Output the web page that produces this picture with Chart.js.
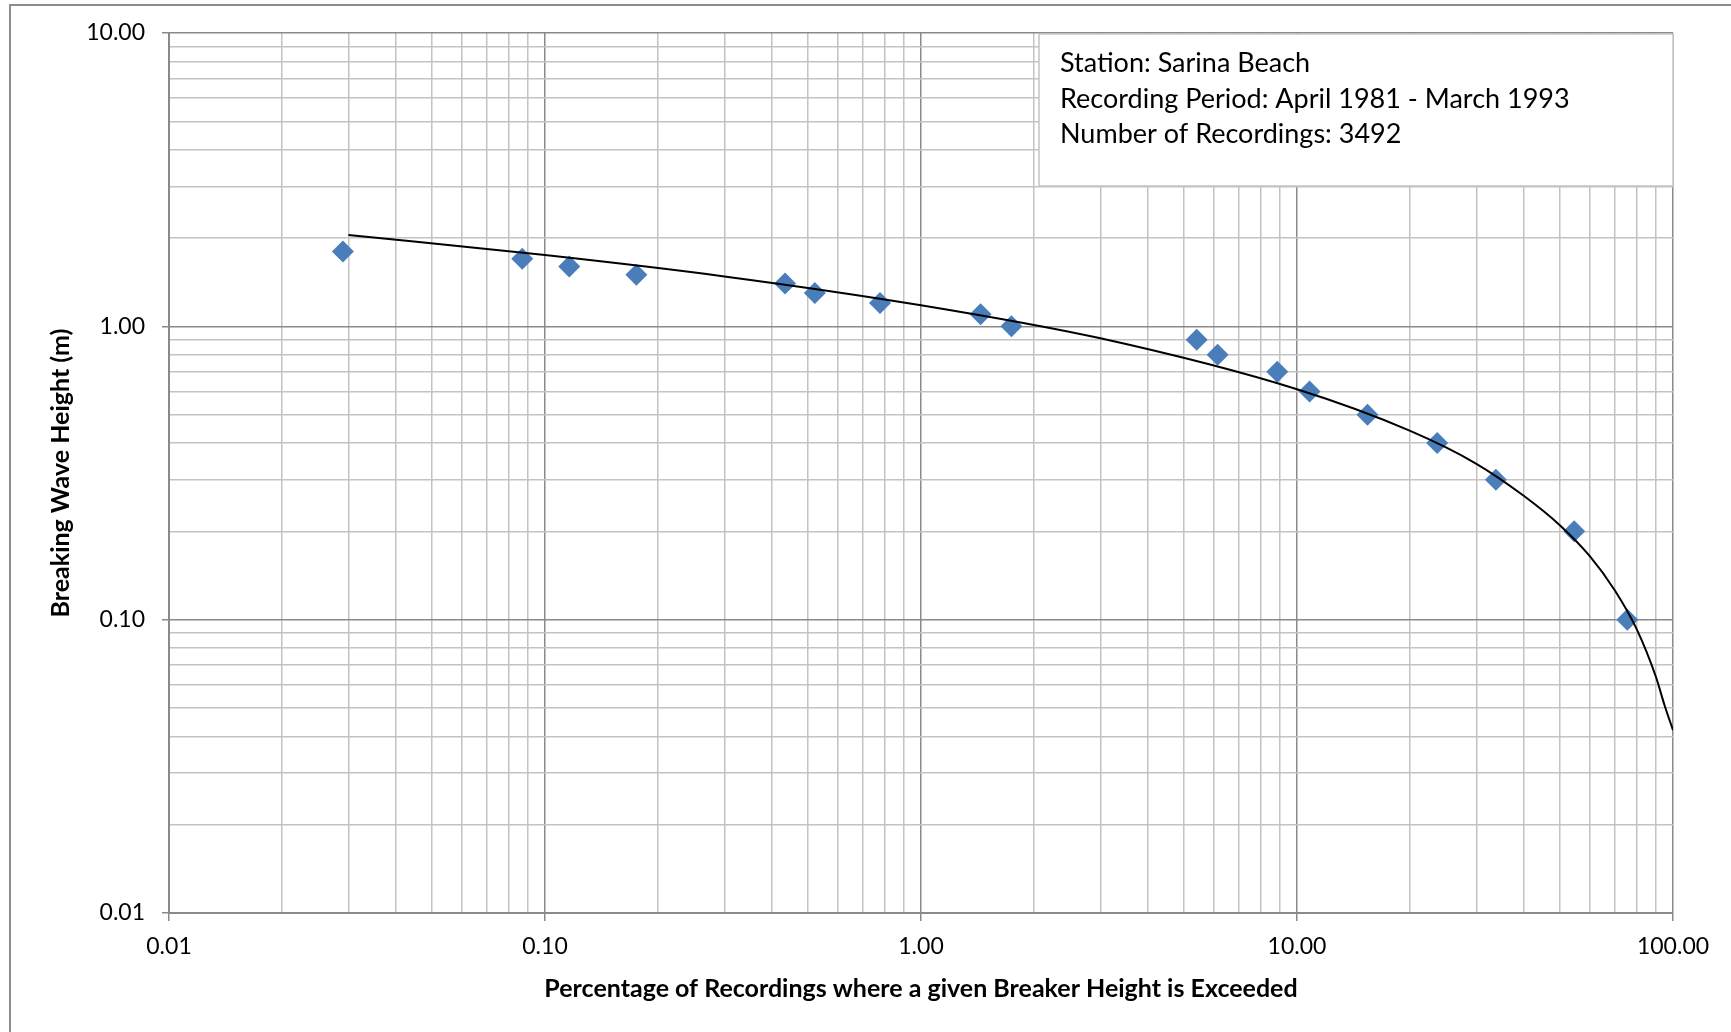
<!DOCTYPE html>
<html>
<head>
<meta charset="utf-8">
<script src="https://cdn.jsdelivr.net/npm/chart.js@4.4.0/dist/chart.umd.min.js"></script>
<style>
  html, body { margin: 0; padding: 0; background: #fff; }
  #wrap { width: 1731px; height: 1032px; }
</style>
</head>
<body>
<div id="wrap"><canvas id="waveChart" width="1731" height="1032"></canvas></div>
<script>
const exceedPct = [0.029, 0.087, 0.116, 0.175, 0.435, 0.522, 0.778, 1.44, 1.74, 5.41, 6.15, 8.86, 10.8, 15.4, 23.6, 33.8, 54.6, 75.6];
const waveHeight = [1.8, 1.7, 1.6, 1.5, 1.4, 1.3, 1.2, 1.1, 1.0, 0.9, 0.8, 0.7, 0.6, 0.5, 0.4, 0.3, 0.2, 0.1];

// trend curve, sampled from the plot
const trendPct = [0.03, 0.1, 0.3, 1, 3, 10, 20, 30, 40, 50, 60, 70, 80, 90, 95, 100];
const trendHeight = [2.05, 1.75, 1.48, 1.18, 0.91, 0.61, 0.44, 0.34, 0.265, 0.21, 0.165, 0.126, 0.093, 0.064, 0.051, 0.042];

const xTickValues = [0.01, 0.1, 1, 10, 100];
const xTickLabels = ['0.01', '0.10', '1.00', '10.00', '100.00'];
const yTickValues = [0.01, 0.1, 1, 10];
const yTickLabels = ['0.01', '0.10', '1.00', '10.00'];

const infoLines = [
  'Station: Sarina Beach',
  'Recording Period: April 1981 - March 1993',
  'Number of Recordings: 3492'
];

const MAJOR = '#8a8a8a';
const MINOR = '#c3c3c3';

// major decades plus the 2..9 lines between them
function gridTicks(majors) {
  const out = [];
  for (let i = 0; i < majors.length; i++) {
    out.push({ value: majors[i], major: true });
    if (i === majors.length - 1) break;
    for (let k = 2; k <= 9; k++) {
      out.push({ value: Number((k * majors[i]).toPrecision(3)), major: false });
    }
  }
  return out;
}

function isMajor(v, majors) {
  return majors.some(m => Math.abs(m - v) < m * 1e-6);
}

function labelFor(v, values, labels) {
  const i = values.findIndex(m => Math.abs(m - v) < m * 1e-6);
  return i >= 0 ? labels[i] : '';
}

const sheetPlugin = {
  id: 'sheet',
  beforeDraw(chart) {
    const ctx = chart.ctx;
    ctx.save();
    ctx.fillStyle = '#fff';
    ctx.fillRect(0, 0, chart.width, chart.height);
    ctx.strokeStyle = '#8c8c8c';
    ctx.lineWidth = 2;
    ctx.beginPath();
    ctx.moveTo(10, chart.height);
    ctx.lineTo(10, 5);
    ctx.lineTo(chart.width, 5);
    ctx.stroke();
    ctx.restore();
  },
  afterDraw(chart) {
    const a = chart.chartArea;
    const ctx = chart.ctx;
    const w = 634, h = 152;
    const left = a.right - w, top = a.top + 1;
    ctx.save();
    ctx.fillStyle = '#fff';
    ctx.fillRect(left, top, w, h);
    ctx.strokeStyle = '#c3c3c3';
    ctx.lineWidth = 1.5;
    ctx.strokeRect(left, top, w, h);
    ctx.fillStyle = '#000';
    ctx.font = '27px Lato';
    ctx.textBaseline = 'alphabetic';
    infoLines.forEach((t, i) => ctx.fillText(t, left + 21, top + 38 + i * 35.5));
    ctx.restore();
  }
};

Chart.defaults.font.family = 'Lato';
Chart.defaults.color = '#000';

new Chart(document.getElementById('waveChart'), {
  type: 'scatter',
  data: {
    datasets: [
      {
        label: 'Trend',
        data: trendPct.map((x, i) => ({ x: x, y: trendHeight[i] })),
        showLine: true,
        borderColor: '#000',
        borderWidth: 2,
        pointRadius: 0,
        cubicInterpolationMode: 'monotone',
        order: 0
      },
      {
        label: 'Recordings',
        data: exceedPct.map((x, i) => ({ x: x, y: waveHeight[i] })),
        pointStyle: 'rectRot',
        pointRadius: 11,
        backgroundColor: '#4a7ebb',
        borderColor: '#4a7ebb',
        borderWidth: 0,
        order: 1
      }
    ]
  },
  options: {
    responsive: false,
    animation: false,
    layout: { padding: { left: 0, top: 33, right: 58, bottom: 0 } },
    plugins: {
      legend: { display: false },
      tooltip: { enabled: false }
    },
    scales: {
      x: {
        type: 'logarithmic',
        min: 0.01,
        max: 100,
        afterBuildTicks: s => { s.ticks = gridTicks(xTickValues); },
        afterFit: s => { s.height = 119; },
        ticks: {
          autoSkip: false,
          maxRotation: 0,
          padding: 12,
          font: { size: 23 },
          callback: v => labelFor(v, xTickValues, xTickLabels)
        },
        grid: {
          lineWidth: 1.5,
          tickLength: 8,
          color: c => isMajor(c.tick.value, xTickValues) ? MAJOR : MINOR,
          tickColor: c => isMajor(c.tick.value, xTickValues) ? MAJOR : 'rgba(0,0,0,0)'
        },
        border: { color: MAJOR, width: 2 },
        title: {
          display: true,
          text: 'Percentage of Recordings where a given Breaker Height is Exceeded',
          font: { size: 25, weight: 'bold' },
          padding: { top: 0, bottom: 28 }
        }
      },
      y: {
        type: 'logarithmic',
        min: 0.01,
        max: 10,
        afterBuildTicks: s => { s.ticks = gridTicks(yTickValues); },
        afterFit: s => { s.width = 169; },
        ticks: {
          autoSkip: false,
          padding: 17,
          font: { size: 23 },
          callback: v => labelFor(v, yTickValues, yTickLabels)
        },
        grid: {
          lineWidth: 1.5,
          tickLength: 7,
          color: c => isMajor(c.tick.value, yTickValues) ? MAJOR : MINOR,
          tickColor: c => isMajor(c.tick.value, yTickValues) ? MAJOR : 'rgba(0,0,0,0)'
        },
        border: { color: MAJOR, width: 2 },
        title: {
          display: true,
          text: 'Breaking Wave Height (m)',
          font: { size: 25, weight: 'bold' },
          padding: { top: 46, bottom: 0 }
        }
      }
    }
  },
  plugins: [sheetPlugin]
});
</script>
</body>
</html>
